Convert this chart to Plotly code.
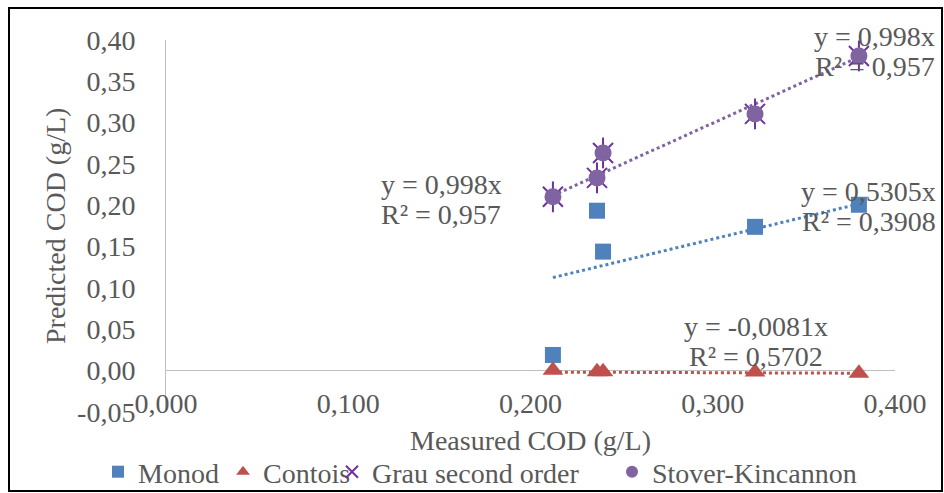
import numpy as np
import plotly.graph_objects as go

# ---- data ----
measured = [0.2123, 0.2365, 0.2398, 0.3232, 0.3802]
monod = [0.019, 0.1935, 0.144, 0.174, 0.2007]
contois = [0.0005, -0.0012, -0.0012, -0.0016, -0.003]
grau = [0.2103, 0.2332, 0.2634, 0.3106, 0.3807]
stover = [0.2103, 0.2332, 0.2634, 0.3106, 0.3807]

series_names = ["Monod", "Contois", "Grau second order", "Stover-Kincannon"]
trend_slopes = [0.5305, -0.0081, 0.998, 0.998]
trend_eq = ["y = 0,5305x", "y = -0,0081x", "y = 0,998x", "y = 0,998x"]
trend_r2 = ["R² = 0,3908", "R² = 0,5702", "R² = 0,957", "R² = 0,957"]

x_tick_vals = [0.0, 0.1, 0.2, 0.3, 0.4]
x_tick_labels = ["0,000", "0,100", "0,200", "0,300", "0,400"]
y_tick_vals = [-0.05, 0.0, 0.05, 0.10, 0.15, 0.20, 0.25, 0.30, 0.35, 0.40]
y_tick_labels = ["-0,05", "0,00", "0,05", "0,10", "0,15", "0,20", "0,25", "0,30", "0,35", "0,40"]

colors = ["#4F81BD", "#C0504D", "#7030A0", "#8064A2"]
FONT = '"Liberation Serif", "Times New Roman", Times, serif'
TXT = "#595959"
FS = 28

# plot area in pixels (for paper-coordinate conversion)
L, R, T, B = 166, 895, 40, 412
def px(xp):
    return (xp - L) / (R - L)
def py(yp):
    return (B - yp) / (B - T)

fig = go.Figure()

xs = np.array(measured)
xfit = np.array([xs.min(), xs.max()])

# trendlines (drawn first, under markers)
for i, s in enumerate(trend_slopes):
    if i == 2:
        continue  # Grau trendline coincides with Stover's
    fig.add_trace(go.Scatter(x=xfit, y=s * xfit, mode="lines",
                             line=dict(color=colors[i], width=3, dash="dot"),
                             showlegend=False, hoverinfo="skip"))

fig.add_trace(go.Scatter(x=measured, y=monod, mode="markers", name=series_names[0],
                         legend="legend",
                         marker=dict(symbol="square", size=16, color=colors[0])))
fig.add_trace(go.Scatter(x=measured, y=contois, mode="markers", name=series_names[1],
                         legend="legend2",
                         marker=dict(symbol="triangle-up", size=18, color=colors[1])))
fig.add_trace(go.Scatter(x=measured, y=grau, mode="markers", name=series_names[2],
                         legend="legend3",
                         marker=dict(symbol="x-thin-open", size=20, color=colors[2],
                                     line=dict(color=colors[2], width=2))))
fig.add_trace(go.Scatter(x=measured, y=grau, mode="markers", showlegend=False,
                         marker=dict(symbol="line-ns-open", size=22, color=colors[2],
                                     line=dict(color=colors[2], width=2)),
                         hoverinfo="skip"))
fig.add_trace(go.Scatter(x=measured, y=stover, mode="markers", name=series_names[3],
                         legend="legend4",
                         marker=dict(symbol="circle", size=17, color=colors[3])))

# trendline equation labels (data coordinates, two lines each)
label_pos = [(0.3857, 0.1982), (0.3237, 0.035), (0.1509, 0.2066), (0.389, 0.3855)]
for (ax, ay), eq, r2 in zip(label_pos, trend_eq, trend_r2):
    fig.add_annotation(x=ax, y=ay, text=eq, showarrow=False, xref="x", yref="y",
                       yshift=15, xanchor="center", yanchor="middle",
                       font=dict(family=FONT, size=FS, color=TXT))
    fig.add_annotation(x=ax, y=ay, text=r2, showarrow=False, xref="x", yref="y",
                       yshift=-15, xanchor="center", yanchor="middle",
                       font=dict(family=FONT, size=FS, color=TXT))

# axis titles
fig.add_annotation(text="Measured COD (g/L)", xref="paper", yref="paper",
                   x=0.5, y=py(440), xanchor="center", yanchor="middle",
                   showarrow=False, font=dict(family=FONT, size=FS, color=TXT))
fig.add_annotation(text="Predicted COD (g/L)", xref="paper", yref="paper",
                   x=px(55), y=0.5, xanchor="center", yanchor="middle",
                   textangle=-90, showarrow=False,
                   font=dict(family=FONT, size=FS, color=TXT))

# chart border
fig.add_shape(type="rect", xref="paper", yref="paper",
              x0=px(9), x1=px(942), y0=py(491), y1=py(8),
              line=dict(color="#000000", width=2))

def leg(xleft):
    return dict(orientation="h", x=px(xleft), xanchor="left",
                y=py(472), yanchor="middle", bgcolor="rgba(0,0,0,0)",
                font=dict(family=FONT, size=FS, color=TXT),
                itemsizing="constant", itemwidth=30)

fig.update_layout(
    width=944, height=493,
    margin=dict(l=L, r=944 - R, t=T, b=493 - B, autoexpand=False),
    paper_bgcolor="white", plot_bgcolor="white",
    font=dict(family=FONT, size=FS, color=TXT),
    showlegend=True,
    legend=leg(98), legend2=leg(223), legend3=leg(332), legend4=leg(612),
    xaxis=dict(range=[0, 0.4], tickvals=x_tick_vals, ticktext=x_tick_labels,
               showgrid=False, zeroline=False, showline=False, ticks="",
               anchor="free", position=py(384),
               tickfont=dict(family=FONT, size=FS, color=TXT)),
    yaxis=dict(range=[-0.05, 0.40], tickvals=y_tick_vals, ticktext=y_tick_labels,
               showgrid=False, zeroline=True, zerolinecolor="#BFBFBF", zerolinewidth=1,
               showline=True, linecolor="#BFBFBF", linewidth=1, ticks="",
               ticklabelstandoff=24,
               tickfont=dict(family=FONT, size=FS, color=TXT)),
)

fig.write_html("out.html")
